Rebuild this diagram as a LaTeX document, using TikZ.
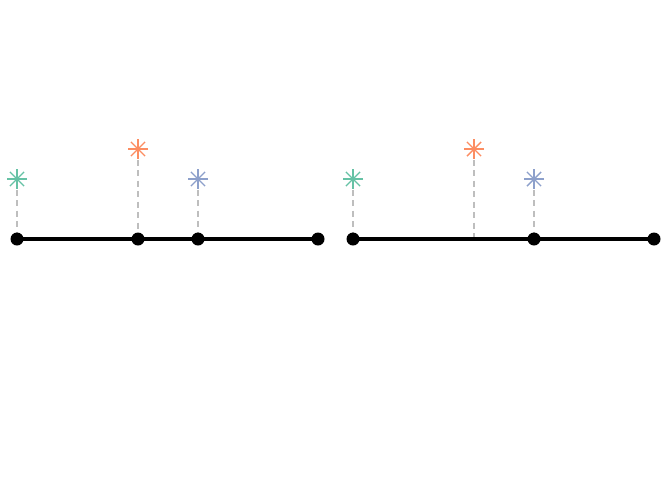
\documentclass[tikz,border=0pt]{standalone}
\definecolor{sgreen}{HTML}{66C2A5}
\definecolor{sorange}{HTML}{FC8D62}
\definecolor{sblue}{HTML}{8DA0CB}
\definecolor{dashgrey}{HTML}{BEBEBE}
\tikzset{
  dotnode/.style={circle,fill=black,inner sep=0pt,minimum size=13pt},
  segline/.style={line width=3.2pt,black},
  guide/.style={dashgrey,line width=1.6pt,dash pattern=on 6pt off 4.5pt},
  pics/star/.style={code={
    \foreach \a in {0,45,90,135}{
      \draw[line width=1.4pt,#1] (\a:10pt) -- (\a+180:10pt);
    }
  }}
}
\begin{document}
\begin{tikzpicture}[x=1pt,y=-1pt]
\useasboundingbox (0,0) rectangle (672,480);
% left panel
\coordinate (La) at (17,239);
\coordinate (Lb) at (138,239);
\coordinate (Lc) at (198,239);
\coordinate (Ld) at (318,239);
\coordinate (Lg) at (17,179);
\coordinate (Lo) at (138,149);
\coordinate (Lbl) at (198,179);
\draw[guide] (Lg) -- (La);
\draw[guide] (Lo) -- (Lb);
\draw[guide] (Lbl) -- (Lc);
\draw[segline] (La) -- (Ld);
\node[dotnode] (dLa) at (La) {};
\node[dotnode] (dLb) at (Lb) {};
\node[dotnode] (dLc) at (Lc) {};
\node[dotnode] (dLd) at (Ld) {};
\pic at (Lg) {star=sgreen};
\pic at (Lo) {star=sorange};
\pic at (Lbl) {star=sblue};
% right panel
\coordinate (Ra) at (353,239);
\coordinate (Rb) at (474,239);
\coordinate (Rc) at (534,239);
\coordinate (Rd) at (654,239);
\coordinate (Rg) at (353,179);
\coordinate (Ro) at (474,149);
\coordinate (Rbl) at (534,179);
\draw[guide] (Rg) -- (Ra);
\draw[guide] (Ro) -- (Rb);
\draw[guide] (Rbl) -- (Rc);
\draw[segline] (Ra) -- (Rd);
\node[dotnode] (dRa) at (Ra) {};
\node[dotnode] (dRc) at (Rc) {};
\node[dotnode] (dRd) at (Rd) {};
\pic at (Rg) {star=sgreen};
\pic at (Ro) {star=sorange};
\pic at (Rbl) {star=sblue};
\end{tikzpicture}
\end{document}
